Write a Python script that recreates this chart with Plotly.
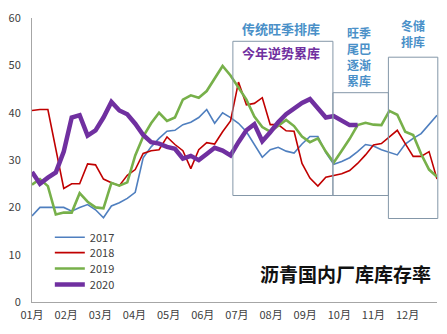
import plotly.graph_objects as go

# Weekly plant inventory ratio (%) of domestic asphalt refineries
weeks = list(range(52))

y2017 = [18.2, 20.0, 20.0, 20.0, 20.0, 19.2, 20.0, 20.6, 19.5, 17.8,
         20.3, 21.0, 21.9, 23.2, 30.5, 32.8, 34.6, 36.1, 36.3, 37.5,
         38.0, 39.0, 40.7, 37.8, 40.0, 39.0, 37.8, 36.0, 33.3, 30.6,
         32.2, 32.7, 31.9, 31.5, 33.4, 35.0, 35.0, 31.6, 29.1, 29.7,
         30.5, 31.8, 33.3, 33.0, 32.2, 31.6, 31.1, 33.4, 34.6, 35.6,
         37.6, 39.5]

y2018 = [40.5, 40.7, 40.7, 32.4, 24.0, 25.0, 25.0, 29.2, 29.0, 26.0,
         25.2, 24.6, 26.8, 28.0, 31.4, 32.0, 32.2, 34.9, 33.3, 32.0,
         28.2, 32.2, 33.7, 33.4, 36.0, 38.3, 46.5, 41.7, 42.0, 43.2,
         37.5, 37.5, 36.2, 36.1, 29.3, 26.2, 24.5, 26.4, 26.8, 27.1,
         27.8, 29.3, 31.1, 33.2, 33.5, 34.9, 36.3, 33.5, 30.8, 30.8,
         31.8, 26.0]

y2019 = [24.8, 26.0, 24.5, 18.5, 18.9, 18.9, 23.0, 21.2, 20.0, 19.8,
         25.2, 24.6, 25.3, 31.0, 35.0, 37.8, 40.0, 38.3, 39.0, 42.8,
         43.7, 43.2, 44.6, 47.2, 49.9, 47.9, 45.3, 42.8, 39.2, 37.0,
         36.0, 37.3, 38.5, 37.2, 35.0, 33.8, 34.6, 31.8, 29.5, 32.0,
         34.5, 37.4, 37.9, 37.5, 37.4, 40.4, 39.6, 36.0, 35.3, 31.3,
         28.0, 26.5]

y2020 = [27.5, 25.0, 26.3, 27.4, 31.8, 39.0, 39.5, 35.2, 36.3, 39.0,
         42.3, 40.5, 39.7, 37.7, 35.3, 33.8, 33.5, 32.8, 32.4, 30.3,
         30.9, 30.0, 31.3, 32.6, 32.0, 31.0, 33.8, 36.3, 37.6, 34.0,
         35.9, 38.0, 39.7, 41.0, 42.1, 42.9, 41.0, 39.0, 39.3, 38.3,
         37.4, 37.4]

month_labels = ["01月", "02月", "03月", "04月", "05月", "06月",
                "07月", "08月", "09月", "10月", "11月", "12月"]
y_ticks = [0, 10, 20, 30, 40, 50, 60]
weeks_per_month = 4.3

series = [
    ("2017", y2017, "#4F7FBF", 1.6),
    ("2018", y2018, "#C00000", 1.6),
    ("2019", y2019, "#77B04A", 2.6),
    ("2020", y2020, "#7030A0", 4.5),
]

CJK = "Noto Sans CJK SC"

# one small legend per series, stacked tightly at the lower left
legend_ids = ["legend", "legend2", "legend3", "legend4"]
legend_y = [0.228, 0.174, 0.118, 0.062]

fig = go.Figure()
for (name, vals, color, width), lid in zip(series, legend_ids):
    fig.add_trace(go.Scatter(
        x=weeks[:len(vals)], y=vals, name=name, mode="lines",
        line=dict(color=color, width=width), legend=lid,
    ))

legend_layout = {}
for lid, ly in zip(legend_ids, legend_y):
    legend_layout[lid] = dict(
        x=0.044, y=ly, xanchor="left", yanchor="middle",
        bgcolor="rgba(0,0,0,0)", borderwidth=0,
        font=dict(family=CJK, size=11, color="#404040"),
        itemwidth=30, tracegroupgap=0,
    )

box_line = dict(color="#8497A8", width=1)
shapes = [
    # traditional peak-season destocking window
    dict(type="rect", xref="paper", yref="paper", x0=0.496, x1=0.743,
         y0=0.375, y1=0.918, line=box_line),
    # tail of peak season, gradual stock build
    dict(type="rect", xref="paper", yref="paper", x0=0.743, x1=0.880,
         y0=0.375, y1=0.737, line=box_line),
    # winter storage destocking
    dict(type="rect", xref="paper", yref="paper", x0=0.880, x1=1.002,
         y0=0.294, y1=0.862, line=box_line),
]

blue_txt = dict(family=CJK, size=13, color="#4A90C8")
blue_small = dict(family=CJK, size=12, color="#4A90C8")
common = dict(xref="paper", yref="paper", showarrow=False,
              xanchor="center", yanchor="middle", align="center")
annotations = [
    dict(text="<b>传统旺季排库</b>", x=0.616, y=0.962, font=blue_txt, **common),
    dict(text="<b>今年逆势累库</b>", x=0.616, y=0.877,
         font=dict(family=CJK, size=13, color="#7030A0"), **common),
    dict(text="<b>沥青国内厂库库存率</b>", x=0.775, y=0.10,
         font=dict(family=CJK, size=19, color="#111111"), **common),
]

# stacked captions above the two narrow boxes, one line each
tail_lines = ["旺季", "尾巴", "逐渐", "累库"]
tail_y = [0.950, 0.893, 0.836, 0.779]
for txt, ty in zip(tail_lines, tail_y):
    annotations.append(dict(text=f"<b>{txt}</b>", x=0.807, y=ty,
                            font=blue_small, **common))

winter_lines = ["冬储", "排库"]
winter_y = [0.975, 0.917]
for txt, ty in zip(winter_lines, winter_y):
    annotations.append(dict(text=f"<b>{txt}</b>", x=0.941, y=ty,
                            font=blue_small, **common))

fig.update_layout(
    width=447, height=334,
    margin=dict(l=28, r=10, t=9, b=32),
    paper_bgcolor="white", plot_bgcolor="white",
    font=dict(family=CJK, size=11, color="#404040"),
    showlegend=True,
    shapes=shapes,
    annotations=annotations,
    **legend_layout,
)
fig.update_xaxes(
    range=[0, 51], tickmode="array",
    tickvals=[i * weeks_per_month for i in range(12)],
    ticktext=month_labels, showgrid=False, zeroline=False,
    showline=True, linecolor="#A6A6A6", linewidth=1, ticks="",
    ticklabelstandoff=3,
    tickfont=dict(size=11, color="#404040"),
)
fig.update_yaxes(
    range=[0, 60.05], tickmode="array", tickvals=y_ticks,
    showgrid=False, zeroline=False,
    showline=True, linecolor="#A6A6A6", linewidth=1, ticks="",
    ticklabelstandoff=8,
    tickfont=dict(size=11, color="#404040"),
)

fig.write_html("out.html")
